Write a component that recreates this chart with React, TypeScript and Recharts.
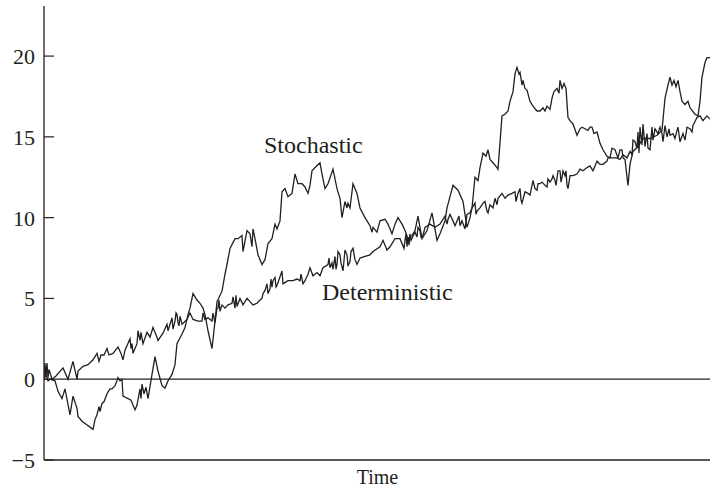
import React from 'react';
import { LineChart, Line, XAxis, YAxis, ReferenceLine, Customized } from 'recharts';

// time index (0..666) and values
const detTime = [0,1,2,3,4,5,8,12,19,24,29,33,34,39,44,49,53,55,57,60,63,65,69,74,77,79,81,88,89,93,94,96,97,99,103,106,109,113,114,119,123,124,128,129,133,134,138,143,146,149,154,158,159,161,164,168,169,171,173,174,178,181,184,188,189,193,196,199,203,206,209,213,216,219,223,226,229,233,238,239,244,249,253,256,261,264,266,269,273,276,279,284,288,289,293,296,299,303,306,309,313,316,321,326,329,336,339,343,346,351,356,361,363,364,366,371,376,379,381,386,391,396,401,404,409,413,418,421,423,428,429,433,436,439,443,446,449,453,454,458,461,464,468,471,474,478,481,484,488,491,494,496,498,501,504,506,508,509,511,514,518,519,521,524,526,529,533,536,539,543,546,549,553,556,559,563,564,568,573,576,579,583,586,591,593,596,599,601,604,608,611,614,618,621,623,626,629,633,636,639,643,646,649,653,656,659,663,666];
const detValue = [0.0,1.0,0.2,1.0,0.1,0.6,0.0,0.2,0.7,0.0,1.1,0.0,0.5,0.8,0.9,1.2,1.6,1.1,1.5,1.5,1.9,1.5,1.6,2.0,1.6,1.2,1.8,2.2,1.6,2.2,3.0,2.4,2.9,2.2,2.9,2.6,3.2,2.6,2.4,2.85,3.4,3.0,3.8,3.1,4.0,3.5,3.4,3.7,4.1,3.7,3.6,3.6,4.1,3.7,3.8,3.6,4.1,3.5,4.4,4.4,4.6,4.4,4.6,4.7,5.1,4.5,5.0,4.6,5.0,4.8,4.6,4.7,4.9,5.3,5.9,5.6,6.1,5.8,6.7,5.9,6.1,6.1,6.2,6.1,6.1,6.5,6.9,6.4,6.6,6.4,6.9,7.1,7.2,6.8,7.1,7.7,6.7,7.7,7.3,8.1,7.1,7.5,7.6,7.7,7.9,8.2,8.6,8.0,8.2,8.7,8.7,8.6,8.2,8.8,9.0,9.1,9.2,8.9,9.4,9.6,9.4,9.6,10.1,9.9,9.8,9.8,9.8,9.3,10.2,10.6,10.7,10.4,10.6,10.9,10.4,10.8,10.6,10.8,11.2,11.5,11.2,11.4,11.5,11.6,11.5,10.9,11.6,11.5,12.0,11.8,12.1,12.1,12.2,12.0,12.4,12.2,12.4,12.6,12.3,12.9,12.5,12.9,12.6,11.8,12.6,12.6,12.7,13.0,12.9,13.1,13.2,12.9,13.5,13.3,13.3,13.5,13.7,13.7,13.7,13.6,13.9,13.7,14.1,14.7,14.3,15.6,15.8,14.4,14.3,15.6,15.5,15.2,15.2,15.7,15.0,15.1,15.2,15.4,14.7,15.2,15.6,15.5,15.7,16.2,16.3,16.0,16.3,16.1];
// short-period jitter of the deterministic series
const detJitterTime = [86,87,131,132,135,136,175,176,191,192,218,221,224,227,228,231,232,257,259,285,286,291,292,294,297,301,304,307,311,360,362,365,367,373,374,377,403,406,411,415,416,426,431,432,441,444,451,472,476,477,486,489,493,503,512,516,517,522,523,588,589,594,595,598,603,606,609,616,619,625,631,634,641,648];
const detJitterValue = [2.5,1.9,3.6,4.1,3.3,3.9,4.9,4.2,4.4,5.2,5.0,5.5,5.3,6.2,5.7,6.3,5.7,6.5,5.9,7.5,6.9,7.6,6.8,7.9,7.2,8.0,7.0,7.9,7.4,8.1,9.0,8.3,8.6,8.8,9.4,8.8,9.6,10.2,9.5,10.1,9.5,10.3,10.9,10.2,11.0,10.3,11.2,11.0,11.8,11.1,11.4,12.3,11.7,11.9,12.0,12.9,12.2,12.9,12.0,13.9,14.8,15.3,14.0,14.5,15.2,14.2,14.8,15.6,14.7,15.5,14.9,15.6,14.8,15.3];

const stochTime = [0,2,4,6,11,14,18,21,26,29,33,34,38,49,51,53,55,56,58,60,63,66,68,71,73,74,76,78,79,84,87,91,93,96,97,98,100,102,104,108,111,114,118,121,124,128,131,133,138,141,144,146,149,153,156,159,161,164,168,171,173,178,181,183,186,191,194,198,199,203,206,208,209,211,214,218,221,224,228,231,233,236,238,241,244,248,251,254,258,261,264,266,268,271,276,278,281,284,289,293,296,298,301,303,304,306,309,313,316,321,326,328,329,333,336,341,344,348,351,354,358,361,364,368,371,374,378,383,388,393,396,401,403,406,409,414,419,421,423,426,428,431,434,436,439,442,444,446,449,453,454,458,461,464,466,469,471,473,475,476,478,479,481,483,486,489,493,496,499,501,503,506,508,510,513,515,516,518,520,522,524,526,529,533,536,538,541,544,546,548,550,553,556,559,563,566,568,571,574,576,578,579,581,583,584,586,589,594,599,606,613,618,621,624,626,628,630,632,634,636,638,641,644,646,651,654,656,658,661,663,666];
const stochValue = [0.0,0.3,-0.1,0.0,-0.1,-0.75,-1.2,-0.6,-2.2,-1.05,-1.8,-2.3,-2.6,-3.1,-2.5,-2.2,-1.7,-2.0,-1.5,-1.4,-0.9,-0.6,-0.6,-0.4,-0.1,0.1,-0.1,0.0,-1.05,-1.2,-1.3,-1.9,-1.6,-0.6,-1.2,-0.3,-0.9,-0.5,-1.2,0.3,1.4,0.5,-0.4,-0.55,-0.1,0.3,0.9,2.2,2.8,3.2,4.0,4.4,5.3,4.9,4.7,4.4,4.0,3.0,1.9,3.6,4.8,5.45,6.5,7.1,8.1,8.7,8.7,8.9,7.9,9.2,9.0,8.2,9.3,8.7,7.7,7.1,7.4,8.4,8.7,9.6,9.3,9.8,11.6,11.8,11.3,11.5,12.7,12.1,12.1,11.9,11.5,12.0,12.9,13.1,13.4,12.7,11.8,12.1,13.0,11.8,11.2,10.0,11.0,10.6,10.9,10.6,12.1,11.5,10.6,10.0,9.5,9.1,9.4,9.1,9.8,9.9,9.6,9.0,9.6,10.0,9.6,9.2,8.7,8.9,9.2,10.1,8.7,9.2,10.3,8.6,9.0,9.8,10.6,11.3,12.0,11.7,11.0,10.2,9.4,10.0,10.6,12.5,12.3,13.1,14.0,13.8,14.2,13.6,13.4,13.1,13.0,16.3,16.4,16.6,17.2,17.8,18.9,19.3,18.9,19.0,18.2,18.5,18.0,17.9,17.2,16.9,16.6,16.6,16.8,16.6,16.9,16.7,17.4,17.8,18.0,17.7,18.5,18.0,18.3,18.0,16.2,16.0,15.8,15.1,15.5,15.6,15.5,15.4,15.6,15.6,15.2,15.3,14.6,14.2,13.8,13.7,14.3,14.2,13.7,14.2,14.2,13.7,13.6,12.5,12.0,13.3,14.1,14.4,14.9,14.9,15.1,15.4,17.4,18.2,18.7,18.2,18.5,18.1,18.5,17.8,17.2,17.0,17.2,16.8,16.4,16.3,17.2,18.7,19.6,19.9,19.9];

const yTicks = [-5, 0, 5, 10, 15, 20];
const xTitle = 'Time';
const stochLabel = 'Stochastic';
const detLabel = 'Deterministic';

const detData = [
  ...detTime.map((t, i) => ({ t, v: detValue[i] })),
  ...detJitterTime.map((t, i) => ({ t, v: detJitterValue[i] })),
].sort((a, b) => a.t - b.t);
const stochData = stochTime.map((t, i) => ({ t, v: stochValue[i] }));

const INK = '#231f20';
const FONT = '"Liberation Serif", "Times New Roman", serif';

const YTick = (props: any) => {
  const { x, y, payload } = props;
  const v = payload.value as number;
  const label = v < 0 ? `\u2212${Math.abs(v)}` : `${v}`;
  return (
    <g>
      <line x1={x + 9} x2={x + 19} y1={y} y2={y} stroke={INK} strokeWidth={1.2} />
      <text x={x} y={y} dy="0.36em" textAnchor="end" fontFamily={FONT} fontSize={22} fill={INK}>
        {label}
      </text>
    </g>
  );
};

const SeriesLabels = () => (
  <g>
    <text x={264} y={153} fontFamily={FONT} fontSize={24} fill={INK}>{stochLabel}</text>
    <text x={322} y={300} fontFamily={FONT} fontSize={24} fill={INK}>{detLabel}</text>
  </g>
);

export default function App() {
  return (
    <div style={{ position: 'absolute', left: 0, top: 0, width: 710, height: 489, overflow: 'hidden', background: '#fff' }}>
      <LineChart width={711} height={489} margin={{ top: 6, right: 0, bottom: 0, left: 0 }}>
        <XAxis
          xAxisId="main"
          type="number"
          dataKey="t"
          domain={[0, 667]}
          allowDataOverflow
          tick={false}
          tickLine={false}
          height={29}
          axisLine={{ stroke: INK, strokeWidth: 1.3 }}
          label={{ value: xTitle, position: 'insideBottom', offset: 5, fontFamily: FONT, fontSize: 20, fill: INK }}
        />
        <XAxis
          xAxisId="top"
          orientation="top"
          type="number"
          domain={[0, 667]}
          tick={false}
          tickLine={false}
          height={0}
          axisLine={{ stroke: INK, strokeWidth: 1.3 }}
        />
        <YAxis
          type="number"
          domain={[-5, 23.1]}
          allowDataOverflow
          ticks={yTicks}
          tick={<YTick />}
          tickLine={false}
          tickSize={0}
          tickMargin={9}
          width={44}
          axisLine={{ stroke: INK, strokeWidth: 1.3 }}
        />
        <ReferenceLine xAxisId="main" y={0} stroke={INK} strokeWidth={1.2} />
        <Line
          xAxisId="main"
          data={stochData}
          dataKey="v"
          type="linear"
          stroke={INK}
          strokeWidth={1.3}
          dot={false}
          isAnimationActive={false}
        />
        <Line
          xAxisId="main"
          data={detData}
          dataKey="v"
          type="linear"
          stroke={INK}
          strokeWidth={1.3}
          dot={false}
          isAnimationActive={false}
        />
        <Customized component={<SeriesLabels />} />
      </LineChart>
    </div>
  );
}
